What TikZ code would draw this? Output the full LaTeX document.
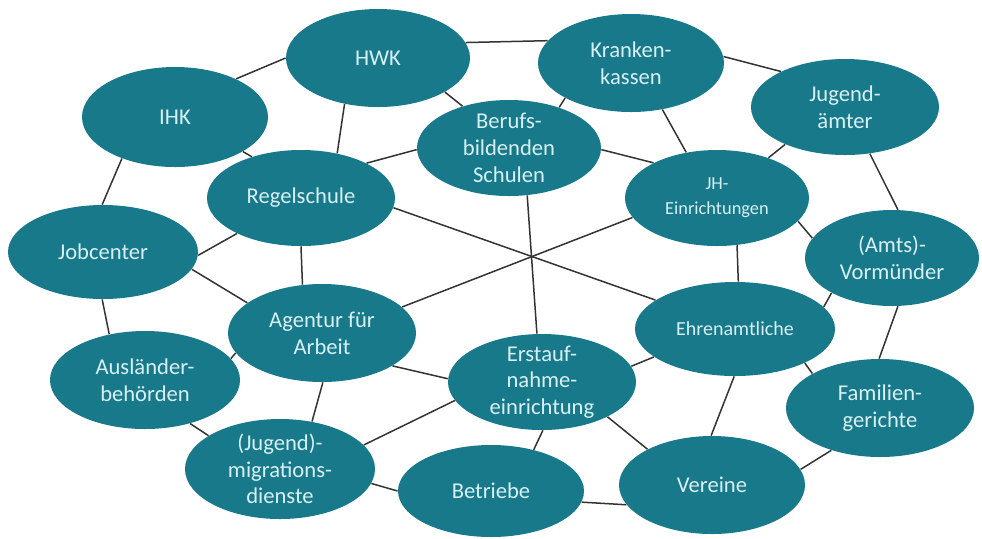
\documentclass[tikz,border=0pt]{standalone}
\usepackage{fontspec}
\setmainfont{Carlito}
\usetikzlibrary{shapes.geometric,backgrounds}
\definecolor{teal1}{HTML}{17798A}
\definecolor{txtc}{HTML}{D8F0F4}
\definecolor{linec}{HTML}{333333}
\tikzset{
  blob/.style 2 args={ellipse, fill=teal1, draw=none, inner sep=0pt, minimum width=#1pt, minimum height=#2pt},
  lbl/.style={text=txtc, align=center, font=\fontsize{11.3}{13.4}\selectfont, inner sep=0pt},
  slbl/.style={text=txtc, align=center, font=\fontsize{9.2}{12.5}\selectfont, inner sep=0pt},
  mlbl/.style={text=txtc, align=center, font=\fontsize{10}{12.5}\selectfont, inner sep=0pt},
  conn/.style={draw=linec, line width=0.75pt}
}
\begin{document}
\begin{tikzpicture}[x=0.5pt,y=-0.5pt]
\path[use as bounding box] (0,0) rectangle (982,538);
\node[blob={92}{49}, label={[lbl]center:HWK}] (hwk) at (378,58) {};
\node[blob={93}{50}, label={[lbl]center:IHK}] (ihk) at (175,117) {};
\node[blob={94}{48}, label={[lbl]center:Regelschule}] (regel) at (301,198) {};
\node[blob={95}{47}, label={[lbl]center:Jobcenter}] (job) at (103,252) {};
\node[blob={92}{48}, label={[lbl]center:{Berufs-\\bildenden\\Schulen}}] (beruf) at (509,148) {};
\node[blob={93}{49}, label={[lbl]center:{Kranken-\\kassen}}] (krank) at (631,63) {};
\node[blob={94}{48}, label={[lbl]center:{Jugend-\\ämter}}] (jug) at (845,107) {};
\node[blob={92}{48}, label={[slbl]center:{JH-\\Einrichtungen}}] (jh) at (717,198) {};
\node[blob={87}{48}, label={[lbl]center:{(Amts)-\\Vormünder}}] (vorm) at (892,258) {};
\node[blob={94}{49}, label={[lbl]center:{Agentur für\\Arbeit}}] (agent) at (322,333) {};
\node[blob={95}{49}, label={[lbl]center:{Ausländer-\\behörden}}] (ausl) at (145,380) {};
\node[blob={95}{50}, label={[lbl]center:{(Jugend)-\\migrations-\\dienste}}] (jmig) at (280,469) {};
\node[blob={93}{46}, label={[lbl]center:Betriebe}] (betr) at (491,491) {};
\node[blob={94}{48}, label={[lbl]center:{Erstauf-\\nahme-\\einrichtung}}] (erst) at (542,382) {};
\node[blob={100}{47}, label={[mlbl]center:Ehrenamtliche}] (ehren) at (735,329) {};
\node[blob={94}{49}, label={[lbl]center:{Familien-\\gerichte}}] (famil) at (880,408) {};
\node[blob={93}{49}, label={[lbl]center:Vereine}] (verein) at (712,485) {};
\begin{scope}[on background layer]
\draw[conn] (hwk.180) -- (ihk.32);
\draw[conn] (hwk.10) -- (krank.165);
\draw[conn] (hwk.234) -- (regel.51);
\draw[conn] (hwk.-27) -- (beruf.138);
\draw[conn] (ihk.-27) -- (regel.140);
\draw[conn] (ihk.218) -- (job.91);
\draw[conn] (regel.28) -- (beruf.181);
\draw[conn] (regel.209) -- (job.-2);
\draw[conn] (regel.-90) -- (agent.112);
\draw[conn] (regel.-6) -- (ehren.160);
\draw[conn] (krank.208) -- (beruf.39);
\draw[conn] (krank.-56) -- (jh.124);
\draw[conn] (krank.4) -- (jug.151);
\draw[conn] (beruf.-1) -- (jh.151);
\draw[conn] (beruf.-69) -- (erst.96);
\draw[conn] (jug.212) -- (jh.38);
\draw[conn] (jug.-62) -- (vorm.83);
\draw[conn] (jh.-16) -- (vorm.166);
\draw[conn] (jh.193) -- (agent.18);
\draw[conn] (jh.-67) -- (ehren.86);
\draw[conn] (job.-11) -- (agent.158);
\draw[conn] (job.269) -- (ausl.128);
\draw[conn] (agent.193) -- (ausl.14);
\draw[conn] (agent.-89) -- (jmig.56);
\draw[conn] (agent.-25) -- (erst.178);
\draw[conn] (ausl.-44) -- (jmig.155);
\draw[conn] (jmig.16) -- (erst.192);
\draw[conn] (jmig.-9) -- (betr.180);
\draw[conn] (vorm.210) -- (ehren.14);
\draw[conn] (vorm.-83) -- (famil.91);
\draw[conn] (ehren.-26) -- (famil.153);
\draw[conn] (ehren.199) -- (erst.10);
\draw[conn] (ehren.269) -- (verein.91);
\draw[conn] (famil.221) -- (verein.10);
\draw[conn] (betr.-7) -- (verein.193);
\draw[conn] (erst.-28) -- (verein.151);
\draw[conn] (erst.-89) -- (betr.44);
\end{scope}
\end{tikzpicture}
\end{document}
